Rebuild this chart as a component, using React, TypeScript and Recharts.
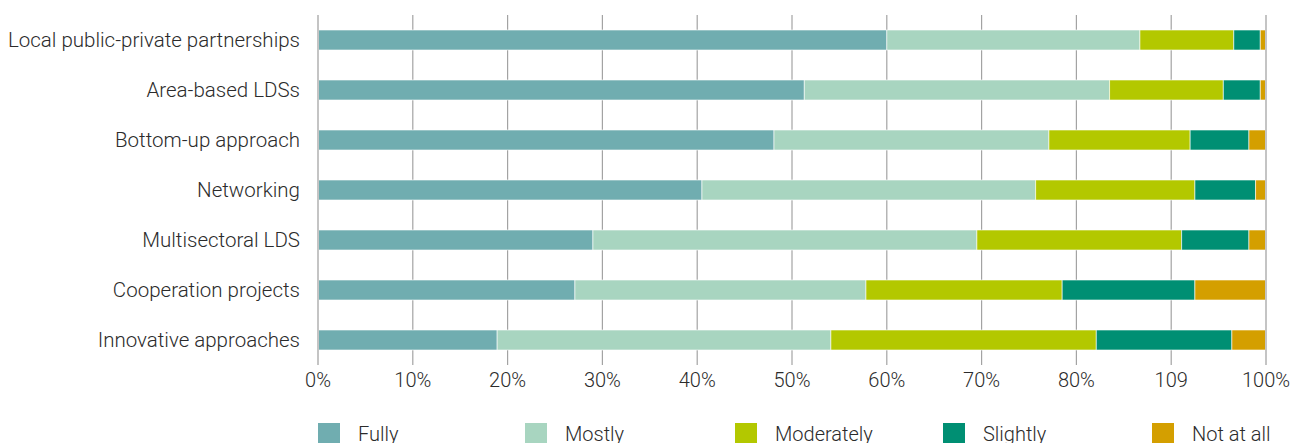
import { Bar, BarChart, CartesianGrid, Legend, ReferenceLine, XAxis, YAxis } from "recharts";

const categories = [
  "Local public-private partnerships",
  "Area-based LDSs",
  "Bottom-up approach",
  "Networking",
  "Multisectoral LDS",
  "Cooperation projects",
  "Innovative approaches",
];
const fully = [60.0, 51.3, 48.1, 40.5, 29.0, 27.1, 18.9];
const mostly = [26.7, 32.2, 29.0, 35.2, 40.5, 30.7, 35.2];
const moderately = [9.9, 12.0, 14.9, 16.8, 21.6, 20.7, 28.0];
const slightly = [2.8, 3.9, 6.2, 6.4, 7.1, 14.0, 14.3];
const notAtAll = [0.6, 0.6, 1.8, 1.1, 1.8, 7.5, 3.6];

const xTicks = [0, 10, 20, 30, 40, 50, 60, 70, 80, 90, 100];
const xTickLabels = ["0%", "10%", "20%", "30%", "40%", "50%", "60%", "70%", "80%", "109", "100%"];

const series = [
  { key: "fully", name: "Fully", color: "#70adb0" },
  { key: "mostly", name: "Mostly", color: "#a8d5c0" },
  { key: "moderately", name: "Moderately", color: "#b3c800" },
  { key: "slightly", name: "Slightly", color: "#008f73" },
  { key: "notAtAll", name: "Not at all", color: "#d49f00" },
];

const legendX = [318, 525, 735, 943, 1152];

const FONT = "Roboto, 'Noto Sans', sans-serif";
const TEXT = "#2b2b2b";

const data = categories.map((name, i) => ({
  name,
  fully: fully[i],
  mostly: mostly[i],
  moderately: moderately[i],
  slightly: slightly[i],
  notAtAll: notAtAll[i],
}));

function LegendRow() {
  return (
    <div style={{ position: "relative", width: 1306, height: 30 }}>
      {series.map((s, i) => (
        <div
          key={s.key}
          style={{ position: "absolute", left: legendX[i], top: 0, display: "flex", alignItems: "flex-start" }}
        >
          <div style={{ width: 22, height: 22, background: s.color }} />
          <span
            style={{
              marginLeft: 18,
              fontFamily: FONT,
              fontWeight: 300,
              fontSize: 20,
              color: TEXT,
              lineHeight: "22px",
            }}
          >
            {s.name}
          </span>
        </div>
      ))}
    </div>
  );
}

export default function App() {
  return (
    <div style={{ position: "absolute", left: 0, top: 0, width: 1306, height: 443, overflow: "hidden", background: "#fff" }}>
      <BarChart
        width={1306}
        height={443}
        data={data}
        layout="vertical"
        margin={{ top: 15, right: 40, left: 0, bottom: 48 }}
        barSize={20}
      >
        <CartesianGrid horizontal={false} stroke="#a3a3a3" strokeWidth={1.2} />
        <XAxis
          type="number"
          domain={[0, 100]}
          ticks={xTicks}
          interval={0}
          height={30}
          axisLine={false}
          tickLine={false}
          tickSize={0}
          tickMargin={8}
          tickFormatter={(v: number) => xTickLabels[xTicks.indexOf(v)]}
          tick={{ fontSize: 20, fill: TEXT, fontFamily: FONT, fontWeight: 300 }}
        />
        <YAxis
          type="category"
          dataKey="name"
          width={318}
          axisLine={{ stroke: "#c4c4c4", strokeWidth: 2 }}
          tickLine={false}
          tickSize={0}
          tickMargin={18}
          interval={0}
          tick={{ fontSize: 20.5, fill: TEXT, fontFamily: FONT, fontWeight: 300 }}
        />
        <ReferenceLine x={100} stroke="#c4c4c4" strokeWidth={2} />
        {series.map((s) => (
          <Bar
            key={s.key}
            dataKey={s.key}
            name={s.name}
            stackId="a"
            fill={s.color}
            stroke="#ffffff"
            strokeWidth={0.6}
            isAnimationActive={false}
          />
        ))}
        <Legend
          layout="horizontal"
          verticalAlign="middle"
          align="center"
          wrapperStyle={{ position: "absolute", left: 0, top: 423, width: 1306 }}
          content={() => <LegendRow />}
        />
      </BarChart>
    </div>
  );
}
